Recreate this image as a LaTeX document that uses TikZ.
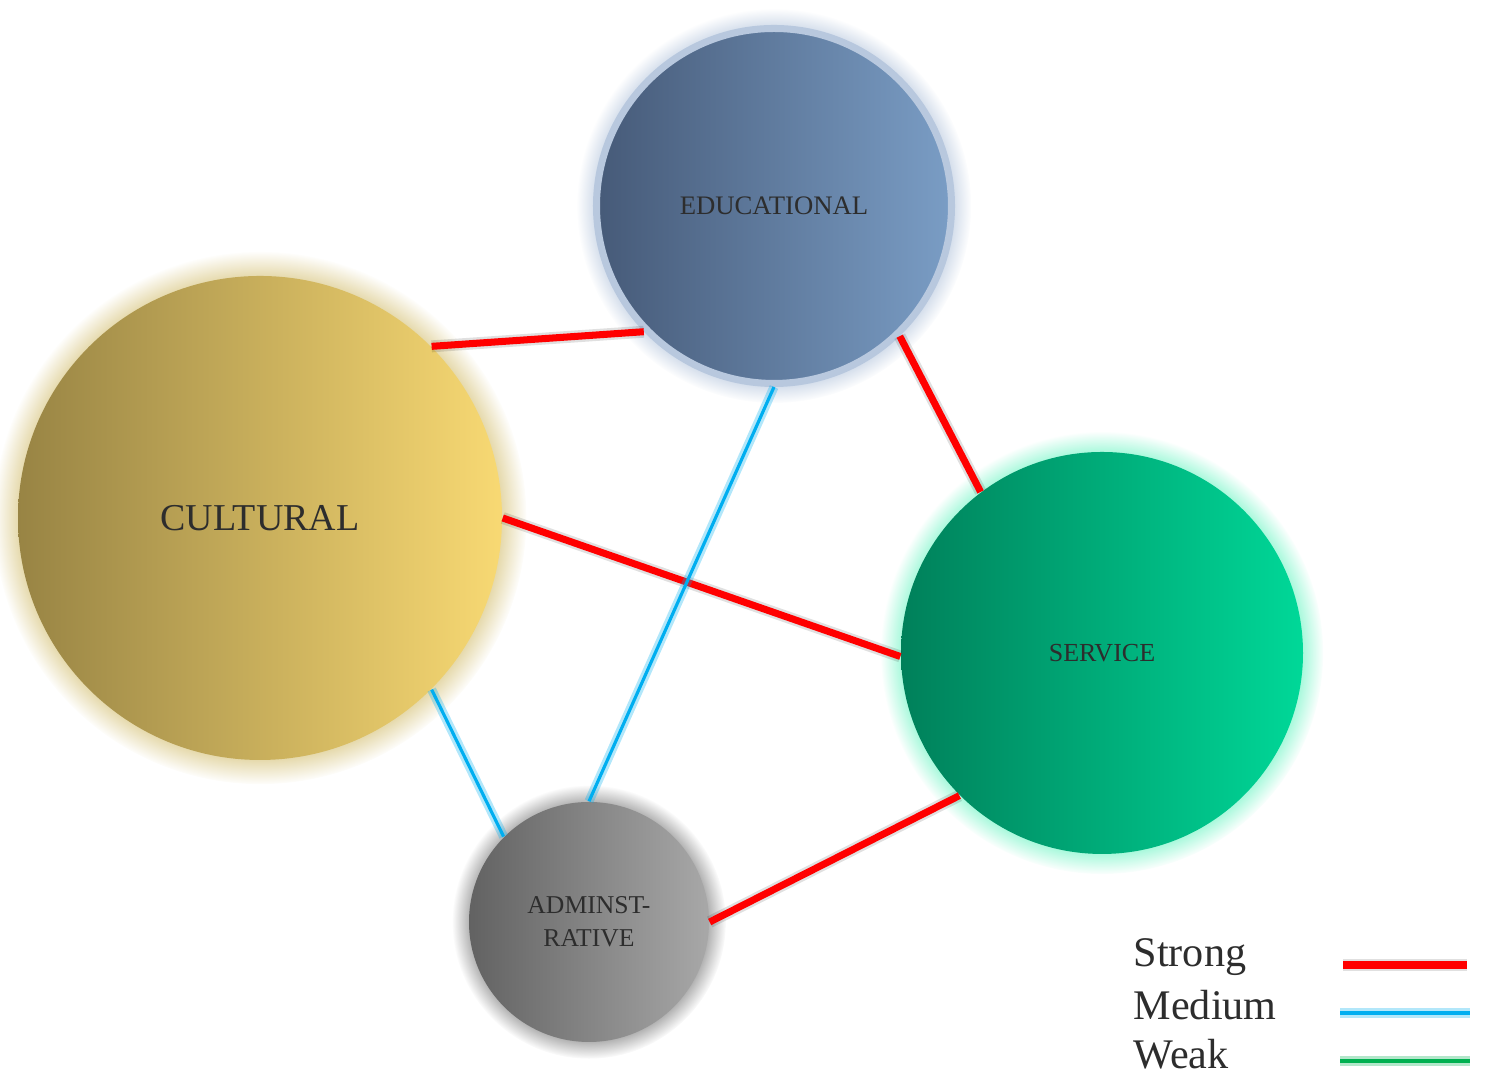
\documentclass[tikz,border=0pt]{standalone}
\usepackage{fontspec}
\setmainfont{Liberation Serif}
\usetikzlibrary{shadows}

\definecolor{cultL}{RGB}{152,132,68}
\definecolor{cultR}{RGB}{248,217,115}
\definecolor{cultGlow}{RGB}{215,196,125}
\definecolor{eduL}{RGB}{70,90,120}
\definecolor{eduR}{RGB}{122,157,197}
\definecolor{eduRing}{RGB}{184,200,222}
\definecolor{servL}{RGB}{0,128,90}
\definecolor{servR}{RGB}{0,216,152}
\definecolor{servGlow}{RGB}{120,245,200}
\definecolor{admL}{RGB}{98,98,98}
\definecolor{admR}{RGB}{168,168,168}
\definecolor{textgray}{RGB}{45,45,45}
\definecolor{linkred}{RGB}{255,0,0}
\definecolor{linkblue}{RGB}{0,174,240}
\definecolor{linkgreen}{RGB}{0,176,80}

\begin{document}
\begin{tikzpicture}[
  bubble/.style={circle, inner sep=0pt, text=textgray, align=center},
  strong/.style={draw=linkred, line width=2pt,
    preaction={draw=black, opacity=.12, line width=3.4pt}},
  medium/.style={draw=linkblue, line width=.9pt,
    preaction={draw=linkblue, opacity=.3, line width=2.6pt}},
  weak/.style={draw=linkgreen, line width=.9pt,
    preaction={draw=linkgreen, opacity=.3, line width=2.6pt}},
  legend/.style={anchor=base west, inner sep=0pt, text=textgray,
    font=\fontsize{12}{14}\selectfont}
]
  \useasboundingbox (0,0) rectangle (14.86,10.75);

  % Circles
  \node[bubble, minimum size=4.84cm, left color=cultL, right color=cultR,
        circular glow={fill=cultGlow, shadow scale=1.1},
        font=\fontsize{10.8}{13}\selectfont] (cult) at (2.60,5.57) {CULTURAL};
  \node[bubble, minimum size=3.55cm, left color=eduL, right color=eduR,
        draw=eduRing, line width=2pt,
        circular glow={fill=eduRing, shadow scale=1.11},
        font=\fontsize{7.6}{9}\selectfont] (edu) at (7.74,8.69) {EDUCATIONAL};
  \node[bubble, minimum size=4.02cm, left color=servL, right color=servR,
        circular glow={fill=servGlow, shadow scale=1.1},
        font=\fontsize{7.4}{9}\selectfont] (serv) at (11.02,4.22) {SERVICE};
  \node[bubble, minimum size=2.40cm, left color=admL, right color=admR,
        circular glow={fill=black!35, shadow scale=1.14},
        font=\fontsize{7.3}{9.4}\selectfont] (adm) at (5.89,1.53) {ADMINST-\\RATIVE};

  % Links
  \draw[strong] (cult.45) -- (edu.224);
  \draw[strong] (edu.-46) -- (serv.127);
  \draw[strong] (cult.east) -- (serv.181);
  \draw[strong] (adm.east) -- (serv.225);
  \draw[medium] (edu.south) -- (adm.north);
  \draw[medium] (cult.-45) -- (adm.135);

  % Legend
  \node[legend] (lstrong) at (11.33,1.08) {Strong};
  \node[legend] (lmedium) at (11.33,0.55) {Medium};
  \node[legend] (lweak) at (11.33,0.06) {Weak};
  \coordinate (s1) at (13.43,1.10);
  \coordinate (s2) at (14.67,1.10);
  \coordinate (m1) at (13.40,0.62);
  \coordinate (m2) at (14.70,0.62);
  \coordinate (w1) at (13.40,0.14);
  \coordinate (w2) at (14.70,0.14);
  \draw[strong, line width=2.3pt] (s1) -- (s2);
  \draw[medium] (m1) -- (m2);
  \draw[weak] (w1) -- (w2);
\end{tikzpicture}
\end{document}
